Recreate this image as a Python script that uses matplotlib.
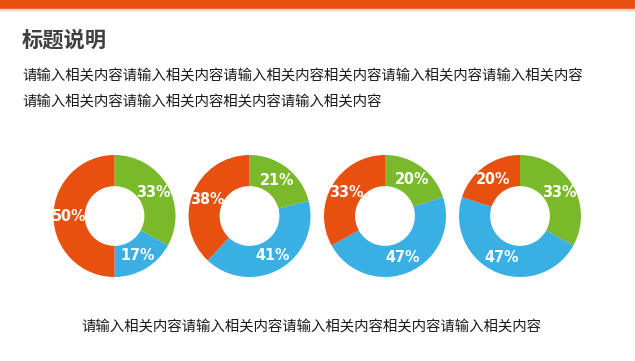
import matplotlib.pyplot as plt
from matplotlib.patches import Rectangle
import numpy as np

plt.rcParams['font.family'] = ['Noto Sans CJK SC', 'DejaVu Sans']

green = [33, 21, 20, 33]
blue = [17, 41, 47, 47]
orange = [50, 38, 33, 20]
centers_x = [114.5, 249.5, 385, 520]

title = '标题说明'
body1 = '请输入相关内容请输入相关内容请输入相关内容相关内容请输入相关内容请输入相关内容'
body2 = '请输入相关内容请输入相关内容相关内容请输入相关内容'
footer = '请输入相关内容请输入相关内容请输入相关内容相关内容请输入相关内容'

c_green = '#7aba2a'
c_blue = '#3aafe4'
c_orange = '#e8500f'

W, H = 635, 361
fig = plt.figure(figsize=(W / 100, H / 100), dpi=100)
fig.patch.set_facecolor('white')

# top bar
fig.patches.append(Rectangle((0, 1 - 8.5 / H), 1, 8.5 / H, transform=fig.transFigure,
                             color=c_orange, zorder=0))
fig.patches.append(Rectangle((0, 1 - 10 / H), 1, 1.5 / H, transform=fig.transFigure,
                             color='#f9d3b8', zorder=0))

fig.text(22 / W, 1 - 40 / H, title, fontsize=15.3, fontweight='bold',
         color='#404040', va='center', ha='left')
fig.text(22 / W, 1 - 76 / H, body1, fontsize=10.4, color='#1a1a1a',
         va='center', ha='left')
fig.text(22 / W, 1 - 102 / H, body2, fontsize=10.4, color='#1a1a1a',
         va='center', ha='left')
fig.text(311 / W, 1 - 327 / H, footer, fontsize=10.4, color='#1a1a1a',
         va='center', ha='center')

R = 61
cy = 216
for i, cx in enumerate(centers_x):
    ax = fig.add_axes([(cx - R) / W, 1 - (cy + R) / H, 2 * R / W, 2 * R / H])
    vals = [green[i], blue[i], orange[i]]
    ax.pie(vals, colors=[c_green, c_blue, c_orange], startangle=90,
           counterclock=False, radius=1,
           wedgeprops=dict(width=0.51, linewidth=0))
    total = sum(vals)
    start = 0
    for v in vals:
        mid = (start + v / 2) / total * 2 * np.pi
        r = 0.745
        ax.text(r * np.sin(mid), r * np.cos(mid), f'{v}%', color='white',
                fontsize=11.5, fontweight='bold', fontstretch='condensed',
                ha='center', va='center', family='DejaVu Sans')
        start += v
    ax.set_xlim(-1, 1)
    ax.set_ylim(-1, 1)
    ax.set_aspect('equal')
    ax.axis('off')

fig.savefig('out.png', dpi=100)
